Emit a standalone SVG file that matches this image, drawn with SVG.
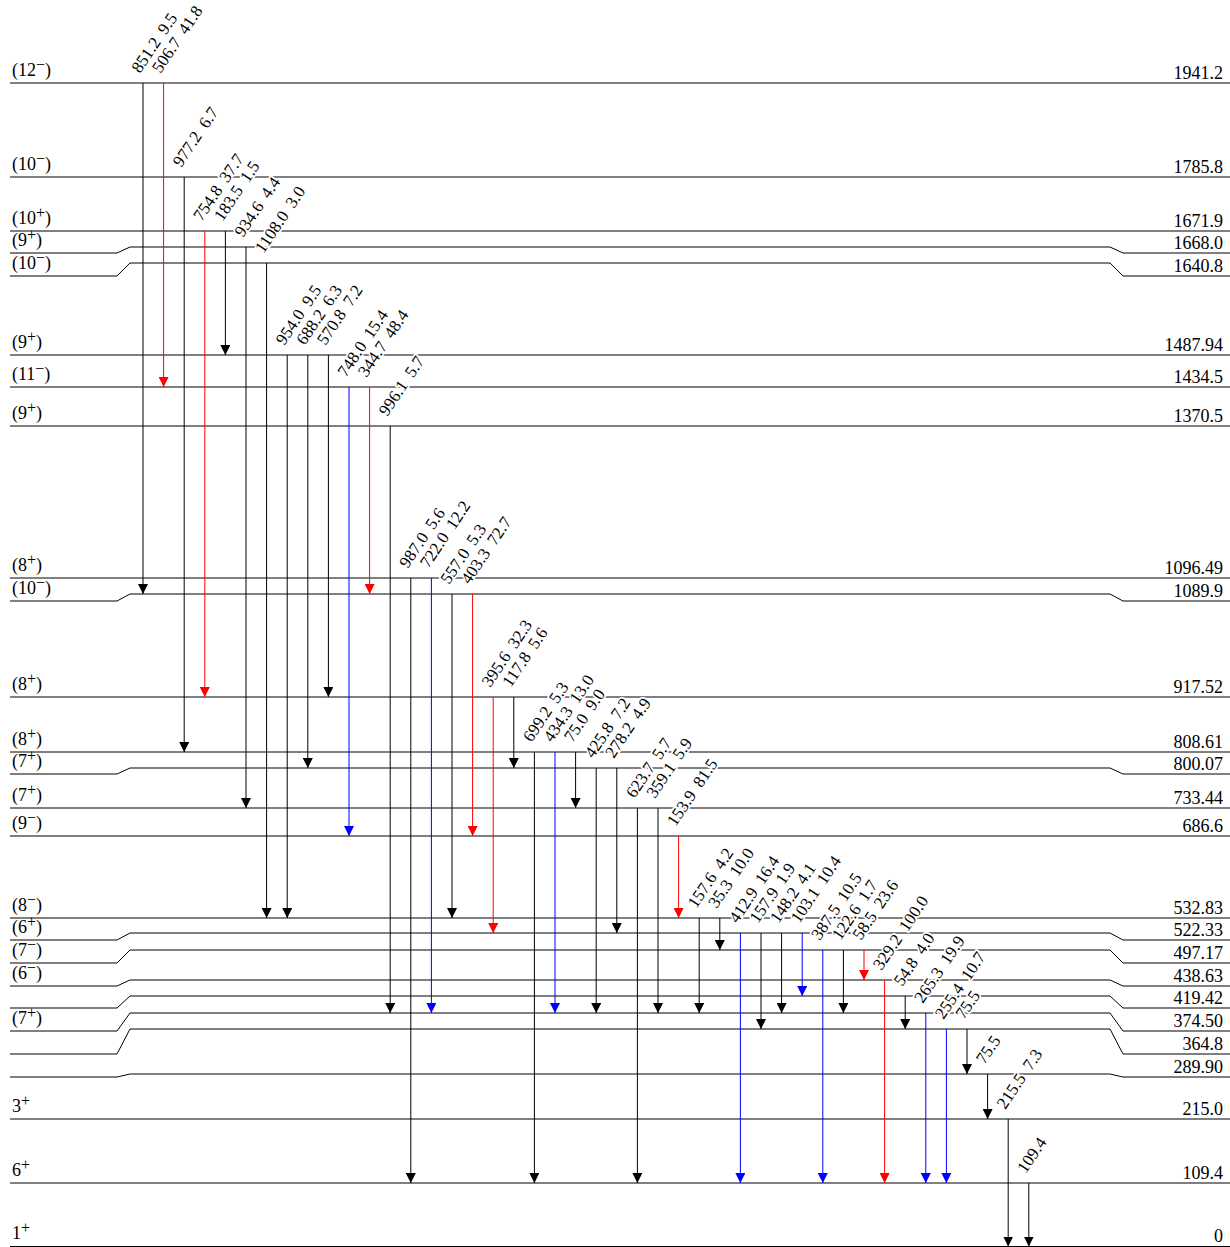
<svg xmlns="http://www.w3.org/2000/svg" width="1230" height="1247" viewBox="0 0 1230 1247">
<style>
.lv{fill:none;stroke:#000;stroke-width:1}
.ll{font-family:"Liberation Serif","Times New Roman",serif;font-size:18px;fill:#000}
.lr{font-family:"Liberation Serif","Times New Roman",serif;font-size:18px;fill:#000;text-anchor:end}
.sp{font-size:16px}
.tk{stroke:#000;stroke-width:1;marker-end:url(#ak)}
.tr{stroke:#f00;stroke-width:1;marker-end:url(#ar)}
.tb{stroke:#00f;stroke-width:1;marker-end:url(#ab)}
.tl{font-family:"Liberation Serif","Times New Roman",serif;font-size:17px;word-spacing:4px;fill:#000;paint-order:stroke;stroke:#fff;stroke-width:3.5px;stroke-linejoin:round}
</style>
<defs>
<marker id="ak" viewBox="0 0 10 10" refX="10" refY="5" markerWidth="10" markerHeight="10" markerUnits="userSpaceOnUse" orient="auto"><path d="M0,0L10,5L0,10z" fill="#000"/></marker>
<marker id="ar" viewBox="0 0 10 10" refX="10" refY="5" markerWidth="10" markerHeight="10" markerUnits="userSpaceOnUse" orient="auto"><path d="M0,0L10,5L0,10z" fill="#f00"/></marker>
<marker id="ab" viewBox="0 0 10 10" refX="10" refY="5" markerWidth="10" markerHeight="10" markerUnits="userSpaceOnUse" orient="auto"><path d="M0,0L10,5L0,10z" fill="#00f"/></marker>
</defs>
<g id="levels">
<g id="L1941"><path class="lv" d="M10,83H1230"/><text class="ll" x="12" y="76">(12<tspan class="sp" dy="-6">−</tspan><tspan dy="6">)</tspan></text><text class="lr" x="1223" y="79">1941.2</text></g>
<g id="L1785"><path class="lv" d="M10,177H1230"/><text class="ll" x="12" y="170">(10<tspan class="sp" dy="-6">−</tspan><tspan dy="6">)</tspan></text><text class="lr" x="1223" y="173">1785.8</text></g>
<g id="L1671"><path class="lv" d="M10,231H1230"/><text class="ll" x="12" y="224">(10<tspan class="sp" dy="-6">+</tspan><tspan dy="6">)</tspan></text><text class="lr" x="1223" y="227">1671.9</text></g>
<g id="L1668"><path class="lv" d="M10,253H117L130,247H1110L1123,253H1230"/><text class="ll" x="12" y="246">(9<tspan class="sp" dy="-6">+</tspan><tspan dy="6">)</tspan></text><text class="lr" x="1223" y="249">1668.0</text></g>
<g id="L1640"><path class="lv" d="M10,276H117L130,263H1110L1123,276H1230"/><text class="ll" x="12" y="269">(10<tspan class="sp" dy="-6">−</tspan><tspan dy="6">)</tspan></text><text class="lr" x="1223" y="272">1640.8</text></g>
<g id="L1487"><path class="lv" d="M10,355H1230"/><text class="ll" x="12" y="348">(9<tspan class="sp" dy="-6">+</tspan><tspan dy="6">)</tspan></text><text class="lr" x="1223" y="351">1487.94</text></g>
<g id="L1434"><path class="lv" d="M10,387H1230"/><text class="ll" x="12" y="380">(11<tspan class="sp" dy="-6">−</tspan><tspan dy="6">)</tspan></text><text class="lr" x="1223" y="383">1434.5</text></g>
<g id="L1370"><path class="lv" d="M10,426H1230"/><text class="ll" x="12" y="419">(9<tspan class="sp" dy="-6">+</tspan><tspan dy="6">)</tspan></text><text class="lr" x="1223" y="422">1370.5</text></g>
<g id="L1096"><path class="lv" d="M10,578H1230"/><text class="ll" x="12" y="571">(8<tspan class="sp" dy="-6">+</tspan><tspan dy="6">)</tspan></text><text class="lr" x="1223" y="574">1096.49</text></g>
<g id="L1089"><path class="lv" d="M10,601H117L130,594H1110L1123,601H1230"/><text class="ll" x="12" y="594">(10<tspan class="sp" dy="-6">−</tspan><tspan dy="6">)</tspan></text><text class="lr" x="1223" y="597">1089.9</text></g>
<g id="L917"><path class="lv" d="M10,697H1230"/><text class="ll" x="12" y="690">(8<tspan class="sp" dy="-6">+</tspan><tspan dy="6">)</tspan></text><text class="lr" x="1223" y="693">917.52</text></g>
<g id="L808"><path class="lv" d="M10,752H1230"/><text class="ll" x="12" y="745">(8<tspan class="sp" dy="-6">+</tspan><tspan dy="6">)</tspan></text><text class="lr" x="1223" y="748">808.61</text></g>
<g id="L800"><path class="lv" d="M10,774H117L130,768H1110L1123,774H1230"/><text class="ll" x="12" y="767">(7<tspan class="sp" dy="-6">+</tspan><tspan dy="6">)</tspan></text><text class="lr" x="1223" y="770">800.07</text></g>
<g id="L733"><path class="lv" d="M10,808H1230"/><text class="ll" x="12" y="801">(7<tspan class="sp" dy="-6">+</tspan><tspan dy="6">)</tspan></text><text class="lr" x="1223" y="804">733.44</text></g>
<g id="L686"><path class="lv" d="M10,836H1230"/><text class="ll" x="12" y="829">(9<tspan class="sp" dy="-6">−</tspan><tspan dy="6">)</tspan></text><text class="lr" x="1223" y="832">686.6</text></g>
<g id="L532"><path class="lv" d="M10,918H1230"/><text class="ll" x="12" y="911">(8<tspan class="sp" dy="-6">−</tspan><tspan dy="6">)</tspan></text><text class="lr" x="1223" y="914">532.83</text></g>
<g id="L522"><path class="lv" d="M10,940H117L130,933H1110L1123,940H1230"/><text class="ll" x="12" y="933">(6<tspan class="sp" dy="-6">+</tspan><tspan dy="6">)</tspan></text><text class="lr" x="1223" y="936">522.33</text></g>
<g id="L497"><path class="lv" d="M10,963H117L130,950H1110L1123,963H1230"/><text class="ll" x="12" y="956">(7<tspan class="sp" dy="-6">−</tspan><tspan dy="6">)</tspan></text><text class="lr" x="1223" y="959">497.17</text></g>
<g id="L438"><path class="lv" d="M10,986H117L130,980H1110L1123,986H1230"/><text class="ll" x="12" y="979">(6<tspan class="sp" dy="-6">−</tspan><tspan dy="6">)</tspan></text><text class="lr" x="1223" y="982">438.63</text></g>
<g id="L419"><path class="lv" d="M10,1008H117L130,996H1110L1123,1008H1230"/><text class="lr" x="1223" y="1004">419.42</text></g>
<g id="L374"><path class="lv" d="M10,1031H117L130,1013H1110L1123,1031H1230"/><text class="ll" x="12" y="1024">(7<tspan class="sp" dy="-6">+</tspan><tspan dy="6">)</tspan></text><text class="lr" x="1223" y="1027">374.50</text></g>
<g id="L364"><path class="lv" d="M10,1054H117L130,1029H1110L1123,1054H1230"/><text class="lr" x="1223" y="1050">364.8</text></g>
<g id="L289"><path class="lv" d="M10,1077H117L130,1074H1110L1123,1077H1230"/><text class="lr" x="1223" y="1073">289.90</text></g>
<g id="L215"><path class="lv" d="M10,1119H1230"/><text class="ll" x="12" y="1112">3<tspan class="sp" dy="-6">+</tspan></text><text class="lr" x="1223" y="1115">215.0</text></g>
<g id="L109"><path class="lv" d="M10,1183H1230"/><text class="ll" x="12" y="1176">6<tspan class="sp" dy="-6">+</tspan></text><text class="lr" x="1223" y="1179">109.4</text></g>
<g id="L0"><path class="lv" d="M10,1246.5H1230"/><text class="ll" x="12" y="1239">1<tspan class="sp" dy="-6">+</tspan></text><text class="lr" x="1223" y="1242">0</text></g>
</g>
<g id="connectors">
<line class="tk" x1="143" y1="83" x2="143" y2="594"/>
<line class="tr" x1="163.6" y1="83" x2="163.6" y2="387"/>
<line class="tk" x1="184.2" y1="177" x2="184.2" y2="752"/>
<line class="tr" x1="204.8" y1="231" x2="204.8" y2="697"/>
<line class="tk" x1="225.4" y1="231" x2="225.4" y2="355"/>
<line class="tk" x1="246" y1="247" x2="246" y2="808"/>
<line class="tk" x1="266.6" y1="263" x2="266.6" y2="918"/>
<line class="tk" x1="287.2" y1="355" x2="287.2" y2="918"/>
<line class="tk" x1="307.8" y1="355" x2="307.8" y2="768"/>
<line class="tk" x1="328.4" y1="355" x2="328.4" y2="697"/>
<line class="tb" x1="349" y1="387" x2="349" y2="836"/>
<line class="tr" x1="369.6" y1="387" x2="369.6" y2="594"/>
<line class="tk" x1="390.2" y1="426" x2="390.2" y2="1013"/>
<line class="tk" x1="410.8" y1="578" x2="410.8" y2="1183"/>
<line class="tb" x1="431.4" y1="578" x2="431.4" y2="1013"/>
<line class="tk" x1="452" y1="594" x2="452" y2="918"/>
<line class="tr" x1="472.6" y1="594" x2="472.6" y2="836"/>
<line class="tr" x1="493.2" y1="697" x2="493.2" y2="933"/>
<line class="tk" x1="513.8" y1="697" x2="513.8" y2="768"/>
<line class="tk" x1="534.4" y1="752" x2="534.4" y2="1183"/>
<line class="tb" x1="555" y1="752" x2="555" y2="1013"/>
<line class="tk" x1="575.6" y1="752" x2="575.6" y2="808"/>
<line class="tk" x1="596.2" y1="768" x2="596.2" y2="1013"/>
<line class="tk" x1="616.8" y1="768" x2="616.8" y2="933"/>
<line class="tk" x1="637.4" y1="808" x2="637.4" y2="1183"/>
<line class="tk" x1="658" y1="808" x2="658" y2="1013"/>
<line class="tr" x1="678.6" y1="836" x2="678.6" y2="918"/>
<line class="tk" x1="699.2" y1="918" x2="699.2" y2="1013"/>
<line class="tk" x1="719.8" y1="918" x2="719.8" y2="950"/>
<line class="tb" x1="740.4" y1="933" x2="740.4" y2="1183"/>
<line class="tk" x1="761" y1="933" x2="761" y2="1029"/>
<line class="tk" x1="781.6" y1="933" x2="781.6" y2="1013"/>
<line class="tb" x1="802.2" y1="933" x2="802.2" y2="996"/>
<line class="tb" x1="822.8" y1="950" x2="822.8" y2="1183"/>
<line class="tk" x1="843.4" y1="950" x2="843.4" y2="1013"/>
<line class="tr" x1="864" y1="950" x2="864" y2="980"/>
<line class="tr" x1="884.6" y1="980" x2="884.6" y2="1183"/>
<line class="tk" x1="905.2" y1="996" x2="905.2" y2="1029"/>
<line class="tb" x1="925.8" y1="1013" x2="925.8" y2="1183"/>
<line class="tb" x1="946.4" y1="1029" x2="946.4" y2="1183"/>
<line class="tk" x1="967" y1="1029" x2="967" y2="1074"/>
<line class="tk" x1="987.6" y1="1074" x2="987.6" y2="1119"/>
<line class="tk" x1="1008.2" y1="1119" x2="1008.2" y2="1246.5"/>
<line class="tk" x1="1028.8" y1="1183" x2="1028.8" y2="1246.5"/>
</g>
<g id="transition-labels">
<text class="tl" transform="translate(140,74) rotate(-56)">851.2 9.5</text>
<text class="tl" transform="translate(160.6,74) rotate(-56)">506.7 41.8</text>
<text class="tl" transform="translate(181.2,168) rotate(-56)">977.2 6.7</text>
<text class="tl" transform="translate(201.8,222) rotate(-56)">754.8 37.7</text>
<text class="tl" transform="translate(222.4,222) rotate(-56)">183.5 1.5</text>
<text class="tl" transform="translate(243,238) rotate(-56)">934.6 4.4</text>
<text class="tl" transform="translate(263.6,254) rotate(-56)">1108.0 3.0</text>
<text class="tl" transform="translate(284.2,346) rotate(-56)">954.0 9.5</text>
<text class="tl" transform="translate(304.8,346) rotate(-56)">688.2 6.3</text>
<text class="tl" transform="translate(325.4,346) rotate(-56)">570.8 7.2</text>
<text class="tl" transform="translate(346,378) rotate(-56)">748.0 15.4</text>
<text class="tl" transform="translate(366.6,378) rotate(-56)">344.7 48.4</text>
<text class="tl" transform="translate(387.2,417) rotate(-56)">996.1 5.7</text>
<text class="tl" transform="translate(407.8,569) rotate(-56)">987.0 5.6</text>
<text class="tl" transform="translate(428.4,569) rotate(-56)">722.0 12.2</text>
<text class="tl" transform="translate(449,585) rotate(-56)">557.0 5.3</text>
<text class="tl" transform="translate(469.6,585) rotate(-56)">403.3 72.7</text>
<text class="tl" transform="translate(490.2,688) rotate(-56)">395.6 32.3</text>
<text class="tl" transform="translate(510.8,688) rotate(-56)">117.8 5.6</text>
<text class="tl" transform="translate(531.4,743) rotate(-56)">699.2 5.3</text>
<text class="tl" transform="translate(552,743) rotate(-56)">434.3 13.0</text>
<text class="tl" transform="translate(572.6,743) rotate(-56)">75.0 9.0</text>
<text class="tl" transform="translate(593.2,759) rotate(-56)">425.8 7.2</text>
<text class="tl" transform="translate(613.8,759) rotate(-56)">278.2 4.9</text>
<text class="tl" transform="translate(634.4,799) rotate(-56)">623.7 5.7</text>
<text class="tl" transform="translate(655,799) rotate(-56)">359.1 5.9</text>
<text class="tl" transform="translate(675.6,827) rotate(-56)">153.9 81.5</text>
<text class="tl" transform="translate(696.2,909) rotate(-56)">157.6 4.2</text>
<text class="tl" transform="translate(716.8,909) rotate(-56)">35.3 10.0</text>
<text class="tl" transform="translate(737.4,924) rotate(-56)">412.9 16.4</text>
<text class="tl" transform="translate(758,924) rotate(-56)">157.9 1.9</text>
<text class="tl" transform="translate(778.6,924) rotate(-56)">148.2 4.1</text>
<text class="tl" transform="translate(799.2,924) rotate(-56)">103.1 10.4</text>
<text class="tl" transform="translate(819.8,941) rotate(-56)">387.5 10.5</text>
<text class="tl" transform="translate(840.4,941) rotate(-56)">122.6 1.7</text>
<text class="tl" transform="translate(861,941) rotate(-56)">58.5 23.6</text>
<text class="tl" transform="translate(881.6,971) rotate(-56)">329.2 100.0</text>
<text class="tl" transform="translate(902.2,987) rotate(-56)">54.8 4.0</text>
<text class="tl" transform="translate(922.8,1004) rotate(-56)">265.3 19.9</text>
<text class="tl" transform="translate(943.4,1020) rotate(-56)">255.4 10.7</text>
<text class="tl" transform="translate(964,1020) rotate(-56)">75.5</text>
<text class="tl" transform="translate(984.6,1065) rotate(-56)">75.5</text>
<text class="tl" transform="translate(1005.2,1110) rotate(-56)">215.5 7.3</text>
<text class="tl" transform="translate(1025.8,1174) rotate(-56)">109.4</text>
</g>
</svg>
